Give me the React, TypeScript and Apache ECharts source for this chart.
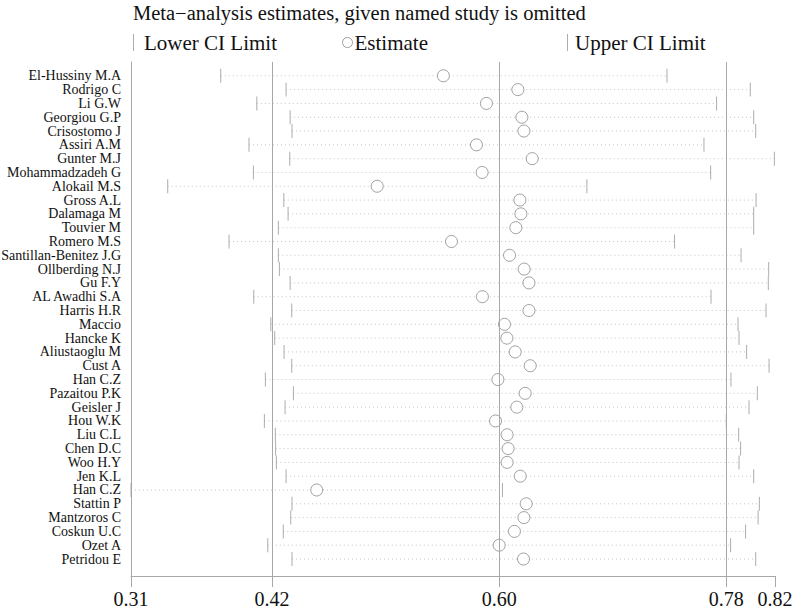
import React, { useEffect, useRef } from "react";
import * as echarts from "echarts";

const studies = [
  "El-Hussiny M.A", "Rodrigo C", "Li G.W", "Georgiou G.P", "Crisostomo J", "Assiri A.M",
  "Gunter M.J", "Mohammadzadeh G", "Alokail M.S", "Gross A.L", "Dalamaga M", "Touvier M",
  "Romero M.S", "Santillan-Benitez J.G", "Ollberding N.J", "Gu F.Y", "AL Awadhi S.A", "Harris H.R",
  "Maccio", "Hancke K", "Aliustaoglu M", "Cust A", "Han C.Z", "Pazaitou P.K",
  "Geisler J", "Hou W.K", "Liu C.L", "Chen D.C", "Woo H.Y", "Jen K.L",
  "Han C.Z", "Stattin P", "Mantzoros C", "Coskun U.C", "Ozet A", "Petridou E",
];

const lowerCI = [
  0.3793, 0.4311, 0.4079, 0.4343, 0.4358, 0.4017,
  0.4340, 0.4052, 0.3373, 0.4293, 0.4327, 0.4250,
  0.3859, 0.4250, 0.4258, 0.4343, 0.4055, 0.4356,
  0.4190, 0.4221, 0.4295, 0.4356, 0.4147, 0.4369,
  0.4303, 0.4139, 0.4226, 0.4228, 0.4234, 0.4311,
  0.3082, 0.4358, 0.4348, 0.4289, 0.4166, 0.4358,
];

const estimates = [
  0.5558, 0.6148, 0.5899, 0.6180, 0.6196, 0.5820,
  0.6262, 0.5865, 0.5033, 0.6164, 0.6172, 0.6132,
  0.5622, 0.6082, 0.6198, 0.6236, 0.5867, 0.6236,
  0.6042, 0.6061, 0.6127, 0.6246, 0.5990, 0.6206,
  0.6140, 0.5971, 0.6063, 0.6071, 0.6063, 0.6167,
  0.4554, 0.6214, 0.6196, 0.6121, 0.6000, 0.6193,
];

const upperCI = [
  0.7330, 0.7990, 0.7723, 0.8017, 0.8033, 0.7623,
  0.8181, 0.7676, 0.6695, 0.8036, 0.8017, 0.8017,
  0.7390, 0.7917, 0.8136, 0.8133, 0.7679, 0.8115,
  0.7893, 0.7901, 0.7961, 0.8139, 0.7837, 0.8046,
  0.7980, 0.7800, 0.7898, 0.7913, 0.7901, 0.8017,
  0.6026, 0.8062, 0.8052, 0.7953, 0.7834, 0.8033,
];

const tickValues = [0.3082, 0.42, 0.6, 0.78, 0.8186];
const tickLabels = ["0.31", "0.42", "0.60", "0.78", "0.82"];
const refLines = [0.42, 0.6, 0.78];

const FONT = "Liberation Serif";
const AXIS = "#a8a8a8";
const TEXT = "#111";

export default function App() {
  const ref = useRef<HTMLDivElement>(null);
  useEffect(() => {
    const chart = echarts.init(ref.current!, undefined, { renderer: "svg" });
    const rows = studies.map((_, i) => [i, lowerCI[i], upperCI[i]]);
    const legendText = { fontFamily: FONT, fontSize: 21, color: TEXT };
    chart.setOption({
      animation: false,
      backgroundColor: "#fff",
      title: {
        text: "Meta\u2212analysis estimates, given named study is omitted",
        left: 128,
        top: -3,
        textStyle: { fontFamily: FONT, fontSize: 20.5, fontWeight: "normal", color: TEXT },
      },
      legend: [
        {
          data: ["Lower CI Limit"],
          left: 128,
          top: 27,
          icon: "rect",
          itemWidth: 1,
          itemHeight: 17,
          selectedMode: false,
          textStyle: { ...legendText, padding: [0, 0, 0, 5] },
        },
        {
          data: ["Estimate"],
          left: 337,
          top: 27,
          icon: "circle",
          itemWidth: 10,
          itemHeight: 10,
          selectedMode: false,
          itemStyle: { color: "#fff", borderColor: "#888", borderWidth: 1 },
          textStyle: { ...legendText, padding: [0, 0, 0, -3] },
        },
        {
          data: ["Upper CI Limit"],
          left: 562,
          top: 27,
          icon: "rect",
          itemWidth: 1,
          itemHeight: 17,
          selectedMode: false,
          textStyle: { ...legendText, padding: [0, 0, 0, 2] },
        },
      ],
      grid: {
        left: 131,
        right: 25,
        top: 62,
        bottom: 34,
        containLabel: false,
        outerBoundsMode: "none",
      },
      xAxis: {
        type: "value",
        position: "bottom",
        min: tickValues[0],
        max: tickValues[tickValues.length - 1],
        axisLine: { show: true, onZero: false, lineStyle: { color: AXIS, width: 1 } },
        axisTick: { show: true, customValues: tickValues, length: 11, lineStyle: { color: AXIS } },
        axisLabel: {
          customValues: tickValues,
          formatter: (v: number) => {
            const idx = tickValues.findIndex((t) => Math.abs(t - v) < 1e-6);
            return idx >= 0 ? tickLabels[idx] : "";
          },
          fontFamily: FONT,
          fontSize: 20,
          color: TEXT,
          margin: 13,
        },
        splitLine: { show: false },
      },
      yAxis: {
        type: "value",
        position: "left",
        inverse: true,
        min: -1,
        max: 36.23,
        interval: 1,
        axisLine: { show: true, onZero: false, lineStyle: { color: AXIS, width: 1 } },
        axisTick: { show: false },
        splitLine: { show: false },
        axisLabel: {
          formatter: (v: number) => studies[Math.round(v)] ?? "",
          fontFamily: FONT,
          fontSize: 14,
          lineHeight: 13,
          color: TEXT,
          margin: 10,
          showMinLabel: true,
          showMaxLabel: true,
          hideOverlap: false,
        },
      },
      series: [
        {
          type: "custom",
          name: "ci",
          silent: true,
          data: rows,
          encode: { x: [1, 2], y: 0 },
          renderItem: (params: any, api: any) => {
            const p1 = api.coord([api.value(1), api.value(0)]);
            const p2 = api.coord([api.value(2), api.value(0)]);
            return {
              type: "line",
              shape: { x1: p1[0], y1: p1[1], x2: p2[0], y2: p2[1] },
              style: { stroke: "#c4c4c4", lineWidth: 1, lineDash: [1, 3] },
            };
          },
          markLine: {
            silent: true,
            symbol: "none",
            label: { show: false },
            lineStyle: { color: AXIS, type: "solid", width: 1 },
            data: refLines.map((v) => ({ xAxis: v })),
          },
          z: 1,
        },
        {
          type: "scatter",
          name: "Lower CI Limit",
          symbol: "rect",
          symbolSize: [1, 14],
          itemStyle: { color: "#999" },
          data: lowerCI.map((v, i) => [v, i]),
          z: 2,
        },
        {
          type: "scatter",
          name: "Upper CI Limit",
          symbol: "rect",
          symbolSize: [1, 14],
          itemStyle: { color: "#999" },
          data: upperCI.map((v, i) => [v, i]),
          z: 2,
        },
        {
          type: "scatter",
          name: "Estimate",
          symbol: "circle",
          symbolSize: 12,
          itemStyle: { color: "#fff", borderColor: "#888", borderWidth: 1 },
          data: estimates.map((v, i) => [v, i]),
          z: 3,
        },
      ],
    });
    return () => chart.dispose();
  }, []);
  return (
    <div
      ref={ref}
      style={{ position: "fixed", left: 0, top: 0, width: 800, height: 610 }}
    />
  );
}
